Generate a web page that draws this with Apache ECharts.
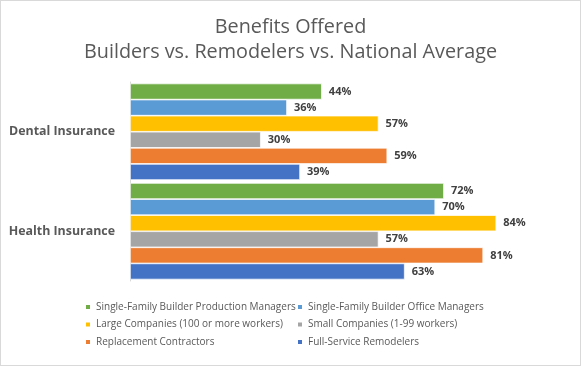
<!DOCTYPE html>
<html><head><meta charset="utf-8">
<script src="https://cdn.jsdelivr.net/npm/echarts@6/dist/echarts.min.js"></script>
<style>html,body{margin:0;padding:0;background:#fff}#c{width:581px;height:366px;box-sizing:border-box;border:1px solid #d9d9d9}</style>
</head><body><div id="c"></div>
<script>
const categories = ['Dental Insurance', 'Health Insurance'];
const seriesNames = [
  'Single-Family Builder Production Managers',
  'Single-Family Builder Office Managers',
  'Large Companies (100 or more workers)',
  'Small Companies (1-99 workers)',
  'Replacement Contractors',
  'Full-Service Remodelers'
];
const sfProduction = [0.44, 0.72];
const sfOffice = [0.36, 0.70];
const largeCompanies = [0.57, 0.84];
const smallCompanies = [0.30, 0.57];
const replacement = [0.59, 0.81];
const fullService = [0.39, 0.63];
const colors = ['#70ad47', '#5b9bd5', '#ffc000', '#a5a5a5', '#ed7d31', '#4472c4'];
const values = [sfProduction, sfOffice, largeCompanies, smallCompanies, replacement, fullService];

const font = '"Open Sans", sans-serif';
const legendText = { fontSize: 10, color: '#595959', fontFamily: font };
const chart = echarts.init(document.getElementById('c'));
chart.setOption({
  animation: false,
  textStyle: { fontFamily: font },
  title: {
    text: 'Benefits Offered\nBuilders vs. Remodelers vs. National Average',
    left: 'center', top: 9,
    textStyle: { fontFamily: font, fontSize: 19.8, fontWeight: 'normal', color: '#595959', lineHeight: 25 }
  },
  legend: [
    { data: [seriesNames[0], seriesNames[2], seriesNames[4]], orient: 'vertical', left: 78, top: 296, itemGap: 7.5,
      itemWidth: 6, itemHeight: 6, icon: 'rect', textStyle: legendText },
    { data: [seriesNames[1], seriesNames[3], seriesNames[5]], orient: 'vertical', left: 290, top: 296, itemGap: 7.5,
      itemWidth: 6, itemHeight: 6, icon: 'rect', textStyle: legendText }
  ],
  grid: { left: 129, right: 14, top: 81, bottom: 84 },
  xAxis: { type: 'value', min: 0, max: 1, show: false },
  yAxis: {
    type: 'category', data: categories, inverse: true,
    axisLine: { lineStyle: { color: '#d9d9d9' } }, axisTick: { show: false },
    axisLabel: { fontSize: 12.4, fontWeight: 'bold', color: '#595959', margin: 15, fontFamily: font }
  },
  series: values.map((v, i) => ({
    name: seriesNames[i], type: 'bar', data: v,
    barGap: '0%', barCategoryGap: '3%',
    itemStyle: { color: colors[i], borderColor: '#fff', borderWidth: 0.7 },
    label: { show: true, position: 'right', distance: 4, fontSize: 11, fontWeight: 'bold', color: '#404040',
      backgroundColor: '#fff', padding: [1, 3], fontFamily: font,
      formatter: p => Math.round(p.value * 100) + '%' }
  }))
});
</script></body></html>
